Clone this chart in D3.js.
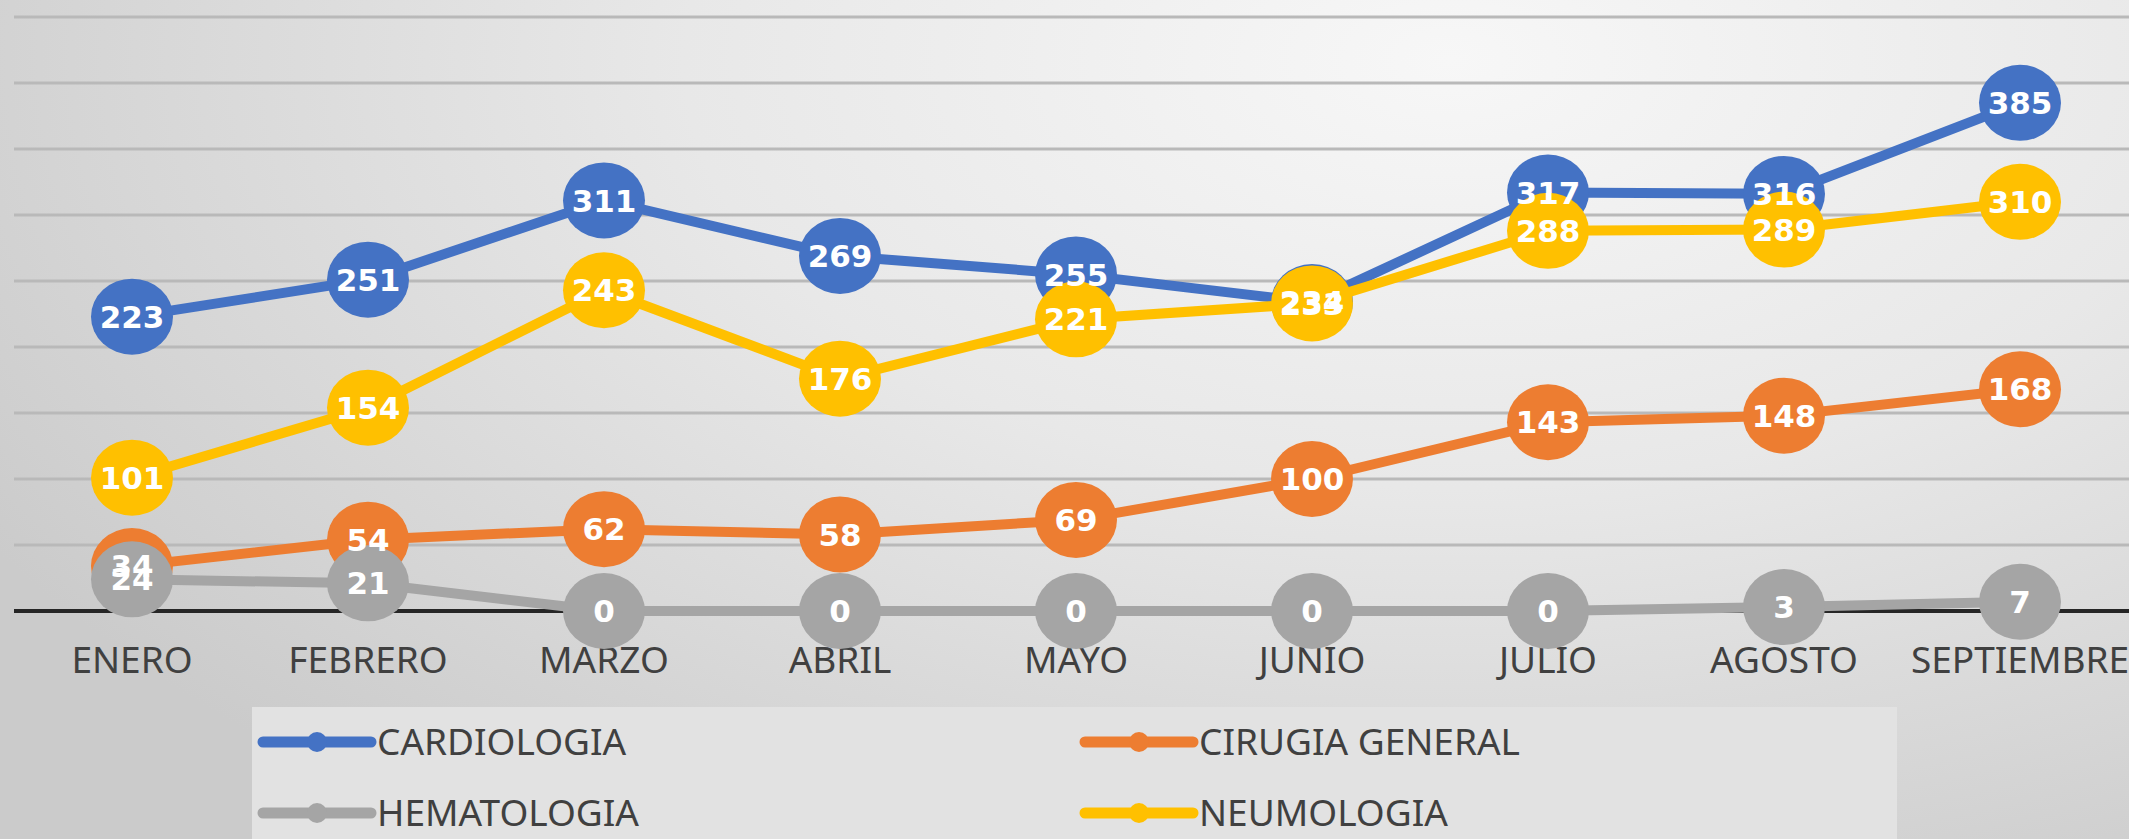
<!DOCTYPE html>
<html>
<head>
<meta charset="utf-8">
<script src="https://cdn.jsdelivr.net/npm/d3@7"></script>
<style>
  html, body { margin: 0; padding: 0; overflow: hidden; }
</style>
</head>
<body>
<script>
;(() => {
  // Chart data
  const months = ['ENERO', 'FEBRERO', 'MARZO', 'ABRIL', 'MAYO', 'JUNIO', 'JULIO', 'AGOSTO', 'SEPTIEMBRE']
  const seriesNames = ['CARDIOLOGIA', 'CIRUGIA GENERAL', 'HEMATOLOGIA', 'NEUMOLOGIA']
  const cardiologia = [223, 251, 311, 269, 255, 234, 317, 316, 385]
  const cirugiaGeneral = [34, 54, 62, 58, 69, 100, 143, 148, 168]
  const hematologia = [24, 21, 0, 0, 0, 0, 0, 3, 7]
  const neumologia = [101, 154, 243, 176, 221, 233, 288, 289, 310]
  const yTicks = [0, 50, 100, 150, 200, 250, 300, 350, 400, 450]

  const colors = ['#4472c4', '#ed7d31', '#a5a5a5', '#ffc000']
  const seriesValues = [cardiologia, cirugiaGeneral, hematologia, neumologia]

  const series = seriesNames.map((name, i) => ({
    name: name,
    color: colors[i],
    points: seriesValues[i].map((v, j) => ({ month: months[j], value: v })),
  }))

  const width = 2129
  const height = 839

  const svg = d3
    .select(document.body)
    .append('svg')
    .attr('width', width)
    .attr('height', height)

  // Gray background with a light spot near the top right
  const defs = svg.append('defs')
  const bg = defs
    .append('radialGradient')
    .attr('id', 'bg')
    .attr('gradientUnits', 'userSpaceOnUse')
    .attr('cx', 0)
    .attr('cy', 0)
    .attr('r', 1)
    .attr('gradientTransform', 'translate(1450,60) scale(1700,950)')
  bg.append('stop').attr('offset', 0).attr('stop-color', '#f7f7f7')
  bg.append('stop').attr('offset', 0.45).attr('stop-color', '#e8e8e8')
  bg.append('stop').attr('offset', 1).attr('stop-color', '#cbcbcb')

  svg
    .append('rect')
    .attr('width', width)
    .attr('height', height)
    .attr('fill', 'url(#bg)')

  // Scales
  const x = d3.scalePoint().domain(months).range([14, 2138]).padding(0.5)
  const y = d3.scaleLinear().domain([0, 450]).range([611, 17])

  // Horizontal gridlines
  svg
    .append('g')
    .selectAll('line')
    .data(yTicks.filter((t) => t > 0))
    .enter()
    .append('line')
    .attr('x1', 14)
    .attr('x2', width)
    .attr('y1', (d) => y(d))
    .attr('y2', (d) => y(d))
    .attr('stroke', '#b9b9b9')
    .attr('stroke-width', 3)

  // Base axis line
  svg
    .append('line')
    .attr('x1', 14)
    .attr('x2', width)
    .attr('y1', y(0))
    .attr('y2', y(0))
    .attr('stroke', '#262626')
    .attr('stroke-width', 4)

  // Month labels
  svg
    .append('g')
    .selectAll('text')
    .data(months)
    .enter()
    .append('text')
    .attr('x', (d) => x(d))
    .attr('y', 673)
    .attr('text-anchor', 'middle')
    .attr('font-family', 'Noto Sans, sans-serif')
    .attr('font-size', 37)
    .attr('fill', '#404040')
    .text((d) => d)

  const line = d3
    .line()
    .x((d) => x(d.month))
    .y((d) => y(d.value))

  // Lines and markers, series by series
  series.forEach((s) => {
    const g = svg.append('g')
    g.append('path')
      .datum(s.points)
      .attr('d', line)
      .attr('fill', 'none')
      .attr('stroke', s.color)
      .attr('stroke-width', 10)
      .attr('stroke-linejoin', 'round')

    g.selectAll('ellipse')
      .data(s.points)
      .enter()
      .append('ellipse')
      .attr('cx', (d) => x(d.month))
      .attr('cy', (d) => y(d.value))
      .attr('rx', 41)
      .attr('ry', 38)
      .attr('fill', s.color)
  })

  // Data labels on top of everything
  series.forEach((s) => {
    svg
      .append('g')
      .selectAll('text')
      .data(s.points)
      .enter()
      .append('text')
      .attr('x', (d) => x(d.month))
      .attr('y', (d) => y(d.value))
      .attr('dy', '0.36em')
      .attr('text-anchor', 'middle')
      .attr('font-family', 'DejaVu Sans, sans-serif')
      .attr('font-weight', 'bold')
      .attr('font-size', 31)
      .attr('fill', '#ffffff')
      .text((d) => d.value)
  })

  // Legend
  const legend = svg.append('g')
  legend
    .append('rect')
    .attr('x', 252)
    .attr('y', 707)
    .attr('width', 1645)
    .attr('height', 140)
    .attr('fill', '#e2e2e2')

  const legendPos = [
    { x: 263, y: 742 },
    { x: 1085, y: 742 },
    { x: 263, y: 813 },
    { x: 1085, y: 813 },
  ]

  const items = legend
    .selectAll('.legend-item')
    .data(series)
    .enter()
    .append('g')
    .attr('class', 'legend-item')
    .attr('transform', (d, i) => `translate(${legendPos[i].x},${legendPos[i].y})`)

  items
    .append('line')
    .attr('x1', 0)
    .attr('x2', 108)
    .attr('stroke', (d) => d.color)
    .attr('stroke-width', 11)
    .attr('stroke-linecap', 'round')

  items
    .append('circle')
    .attr('cx', 54)
    .attr('r', 10)
    .attr('fill', (d) => d.color)

  items
    .append('text')
    .attr('x', 114)
    .attr('dy', '0.35em')
    .attr('font-family', 'Noto Sans, sans-serif')
    .attr('font-size', 37)
    .attr('fill', '#404040')
    .text((d) => d.name)
})()
</script>
</body>
</html>
